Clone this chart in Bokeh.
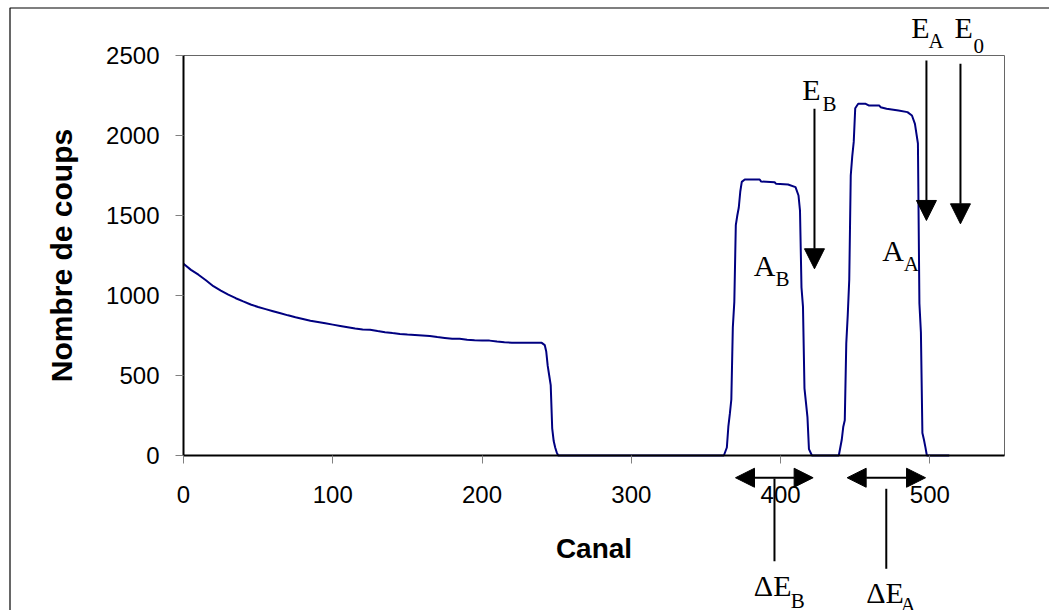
from bokeh.plotting import figure
from bokeh.models import Label, Arrow, NormalHead, FixedTicker, Range1d, LinearAxis, BoxAnnotation
from bokeh.embed import file_html
from bokeh.resources import INLINE

# ---- data ----
channel = [0, 5, 10, 15, 20, 25, 30, 35, 40, 45, 50, 55, 60, 65, 70, 75, 80, 85, 90, 95,
           100, 105, 110, 115, 120, 125, 130, 135, 140, 145, 150, 155, 160, 165, 170, 175,
           180, 185, 190, 195, 200, 205, 210, 215, 220, 225, 230, 235, 240,
           242, 243, 244, 245, 246, 247, 248, 249, 250, 251, 252, 362,
           364, 365, 366, 367, 368, 369, 370, 371, 372, 373, 374, 376, 386, 387, 396, 397,
           405, 410, 412, 413, 414, 415, 416, 417, 418, 419, 421, 439,
           440, 441, 442, 443, 444, 445, 446, 447, 448, 449, 450, 452, 457, 459, 466, 467,
           471, 479, 485, 488, 490, 492, 493, 494, 495, 496, 497, 498, 513]
counts = [1198, 1160, 1130, 1095, 1058, 1030, 1005, 983, 963, 944, 928, 915, 902, 889, 876, 864,
          853, 842, 834, 826, 818, 810, 802, 794, 787, 786, 778, 771, 765, 760, 756, 753, 750,
          747, 740, 735, 730, 729, 724, 721, 719, 718, 712, 708, 705, 704, 704, 704, 704,
          690, 650, 560, 500, 440, 170, 90, 50, 20, 0, 0, 0,
          50, 180, 260, 350, 800, 960, 1440, 1500, 1550, 1650, 1710, 1725, 1725, 1712, 1708, 1698,
          1694, 1677, 1625, 1530, 1050, 930, 420, 330, 240, 40, 0, 0,
          50, 100, 180, 220, 700, 880, 1100, 1750, 1870, 1960, 2170, 2198, 2198, 2188, 2188, 2177,
          2167, 2156, 2146, 2125, 2073, 1950, 950, 770, 140, 100, 52, 0, 0]

x_limits = (0, 550)
y_limits = (0, 2500)
x_ticks = [0, 100, 200, 300, 400, 500]
y_ticks = [0, 500, 1000, 1500, 2000, 2500]
x_title = "Canal"
y_title = "Nombre de coups"

# annotation texts: (main, subscript, x, y anchor of main, x, y anchor of subscript) - data units
labels = [
    ("E", "B", 414.5, 2287.5, 428.1, 2200.0),
    ("E", "A", 487.5, 2675.0, 499.1, 2593.75),
    ("E", "0", 516.5, 2675.0, 529.2, 2562.5),
    ("A", "B", 382.1, 1187.5, 396.6, 1106.25),
    ("A", "A", 468.1, 1281.25, 482.5, 1200.0),
    ("\u0394E", "B", 382.1, -812.5, 406.8, -906.25),
    ("\u0394E", "A", 457.4, -856.25, 480.4, -931.25),
]
# downward arrows: x, y start, y tip
down_arrows = [(422.7, 2167, 1167), (497.7, 2469, 1469), (520.5, 2448, 1448)]
# double-headed arrows: x start, x end, y
double_arrows = [(369.8, 421.8, -139), (444.6, 497.1, -139)]
# leader lines: x, y start, y end
leaders = [(395.9, -144, -661), (470.8, -208, -708)]

# ---- layout (pixels) ----
W, H = 1049, 610
frame_left, frame_right, frame_top, frame_bottom = 183, 1004, 55, 455
border_left, border_top = 9.5, 7.5
sx = (frame_right - frame_left) / (x_limits[1] - x_limits[0])
sy = (frame_bottom - frame_top) / (y_limits[1] - y_limits[0])
x_start = x_limits[0] - frame_left / sx
x_end = x_start + W / sx
y_start = y_limits[0] - (H - frame_bottom) / sy
y_end = y_limits[1] + frame_top / sy

p = figure(width=W, height=H, output_backend="svg", toolbar_location=None,
           x_range=Range1d(x_start, x_end), y_range=Range1d(y_start, y_end),
           x_axis_location=None, y_axis_location=None, min_border=0)
p.background_fill_color = "white"
p.border_fill_color = "white"
p.outline_line_color = None
p.grid.visible = False

# outer chart border (right/bottom edges lie outside the window, as in the original)
p.add_layout(BoxAnnotation(left=x_start + border_left / sx, right=x_end + 50,
                           top=y_end - border_top / sy, bottom=y_start - 500,
                           fill_color=None, line_color="black", line_alpha=1.0,
                           line_width=1.2, level="underlay"))
# plot area box
p.add_layout(BoxAnnotation(left=x_limits[0], right=x_limits[1], bottom=y_limits[0],
                           top=y_limits[1], fill_color=None, line_color="#666666",
                           line_alpha=1.0, line_width=1, level="underlay"))

p.line(channel, counts, line_color="#000080", line_width=2)

xaxis = LinearAxis(fixed_location=y_limits[0], bounds=x_limits)
yaxis = LinearAxis(fixed_location=x_limits[0], bounds=y_limits)
p.add_layout(xaxis, "below")
p.add_layout(yaxis, "left")

for ax, ticks in ((xaxis, x_ticks), (yaxis, y_ticks)):
    ax.ticker = FixedTicker(ticks=ticks, minor_ticks=[])
    ax.axis_line_color = "black"
    ax.axis_line_width = 2
    ax.major_tick_line_color = "#808080"
    ax.major_tick_line_width = 1
    ax.major_tick_out = 8
    ax.major_tick_in = 0
    ax.minor_tick_out = 0
    ax.minor_tick_in = 0
    ax.major_label_text_font = "Liberation Sans"
    ax.major_label_text_font_size = "24px"
    ax.major_label_text_color = "black"
    ax.axis_label_text_font = "Liberation Sans"
    ax.axis_label_text_font_style = "bold"
    ax.axis_label_text_color = "black"

xaxis.axis_label = x_title
yaxis.axis_label = y_title
xaxis.axis_label_text_font_size = "28px"
yaxis.axis_label_text_font_size = "30px"
xaxis.major_label_standoff = 22
yaxis.major_label_standoff = 16
xaxis.axis_label_standoff = 27
yaxis.axis_label_standoff = 25

for main, sub, mx, my, subx, suby in labels:
    p.add_layout(Label(x=mx, y=my, text=main, text_font="Liberation Serif",
                       text_font_size="30px", text_baseline="alphabetic", text_align="left",
                       text_color="black"))
    p.add_layout(Label(x=subx, y=suby, text=sub, text_font="Liberation Serif",
                       text_font_size="21px", text_baseline="alphabetic", text_align="left",
                       text_color="black"))

for x, y0, y1 in down_arrows:
    p.add_layout(Arrow(x_start=x, y_start=y0, x_end=x, y_end=y1, line_width=2,
                       line_color="black",
                       end=NormalHead(size=20, fill_color="black", line_color="black")))

for x0, x1, y in double_arrows:
    p.add_layout(Arrow(x_start=x0, y_start=y, x_end=x1, y_end=y, line_width=2,
                       line_color="black",
                       start=NormalHead(size=19, fill_color="black", line_color="black"),
                       end=NormalHead(size=19, fill_color="black", line_color="black")))

for x, y0, y1 in leaders:
    p.add_layout(Arrow(x_start=x, y_start=y0, x_end=x, y_end=y1, line_width=2,
                       line_color="black", end=None))

open("out.html", "w").write(file_html(p, INLINE))
